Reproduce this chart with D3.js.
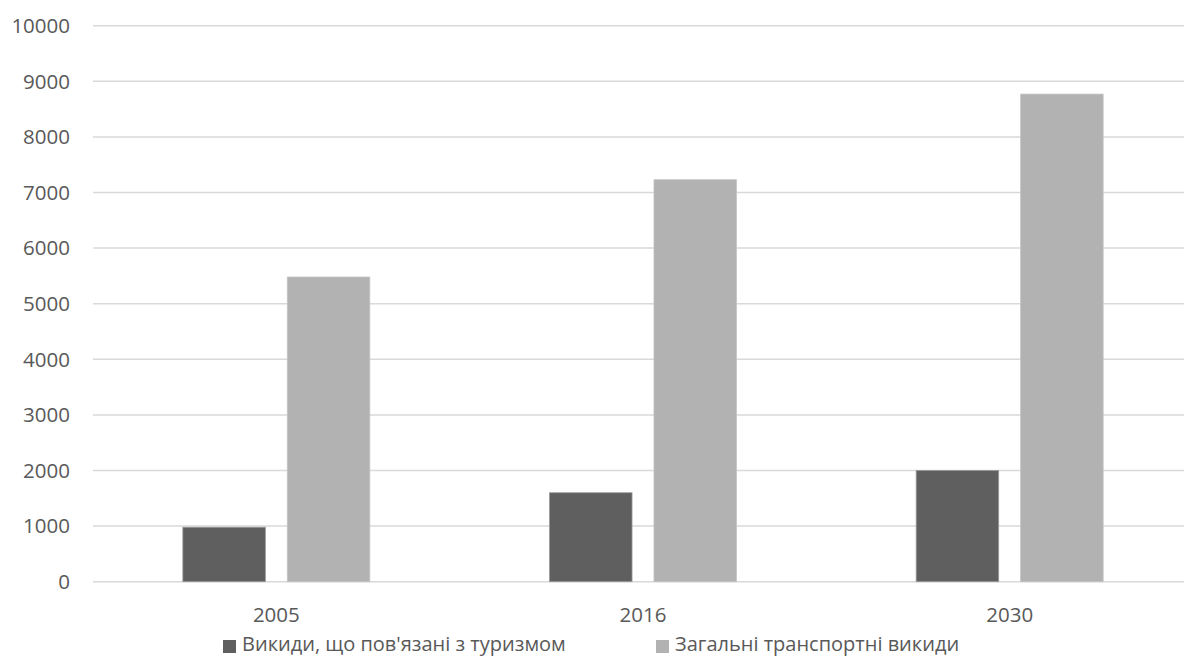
<!DOCTYPE html>
<html>
<head>
<meta charset="utf-8">
<script src="https://cdn.jsdelivr.net/npm/d3@7"></script>
<style>
    body { margin: 0; background: #fff; }
    svg text { font-family: "Open Sans", sans-serif; fill: #595959; }
</style>
</head>
<body>
<svg id="chart" width="1184" height="657"></svg>
<script>
// data
const years = ["2005", "2016", "2030"];
const series_names = ["Викиди, що пов'язані з туризмом", "Загальні транспортні викиди"];
const tourism = [980, 1600, 2000];
const transport = [5480, 7230, 8770];
const y_ticks = [0, 1000, 2000, 3000, 4000, 5000, 6000, 7000, 8000, 9000, 10000];
const colors = ["#5f5f5f", "#b2b2b2"];

const svg = d3.select('#chart');

// plot area runs past the right edge of the picture, like the original
const plot_left = 93, plot_right = 1193, plot_top = 25.7, plot_bottom = 581.7;

let x = d3.scaleBand().domain(years).range([plot_left, plot_right]).paddingInner(0).paddingOuter(0);
let x_inner = d3.scaleBand().domain([0, 1]).range([0, x.bandwidth()]).paddingInner(0.21).paddingOuter(0.86);
let y = d3.scaleLinear().domain([0, 10000]).range([plot_bottom, plot_top]);

// gridlines
svg.append('g')
    .selectAll('line')
    .data(y_ticks)
    .join('line')
        .attr('x1', plot_left)
        .attr('x2', plot_right)
        .attr('y1', d => y(d))
        .attr('y2', d => y(d))
        .style('stroke', '#d9d9d9')
        .style('stroke-width', 1.5);

// y labels
svg.append('g')
    .selectAll('text')
    .data(y_ticks)
    .join('text')
        .attr('x', 70)
        .attr('y', d => y(d))
        .attr('dy', '0.36em')
        .attr('text-anchor', 'end')
        .style('font-size', '20.5px')
        .text(d => d);

// bars
let rows = years.map((yr, i) => ({ year: yr, values: [tourism[i], transport[i]] }));
let groups = svg.append('g')
    .selectAll('g')
    .data(rows)
    .join('g')
        .attr('transform', d => 'translate(' + x(d.year) + ',0)');

groups.selectAll('rect')
    .data(d => d.values.map((v, k) => ({ k: k, v: v })))
    .join('rect')
        .attr('x', d => x_inner(d.k))
        .attr('width', x_inner.bandwidth())
        .attr('y', d => y(d.v))
        .attr('height', d => y(0) - y(d.v))
        .style('fill', d => colors[d.k])
        .style('stroke', d => d.k == 0 ? '#9a9a9a' : '#c4c4c4')
        .style('stroke-width', 0.8);

// x labels
svg.append('g')
    .selectAll('text')
    .data(years)
    .join('text')
        .attr('x', d => x(d) + x.bandwidth() / 2)
        .attr('y', 622)
        .attr('text-anchor', 'middle')
        .style('font-size', '20.5px')
        .text(d => d);

// legend
const legend_x = [223, 656];
let leg = svg.append('g')
    .selectAll('g')
    .data(series_names)
    .join('g')
        .attr('transform', (d, i) => 'translate(' + legend_x[i] + ',0)');

leg.append('rect')
    .attr('x', 0)
    .attr('y', 640)
    .attr('width', 13)
    .attr('height', 13)
    .style('fill', (d, i) => colors[i]);

leg.append('text')
    .attr('x', 19)
    .attr('y', 651)
    .style('font-size', '20px')
    .text(d => d);
</script>
</body>
</html>
